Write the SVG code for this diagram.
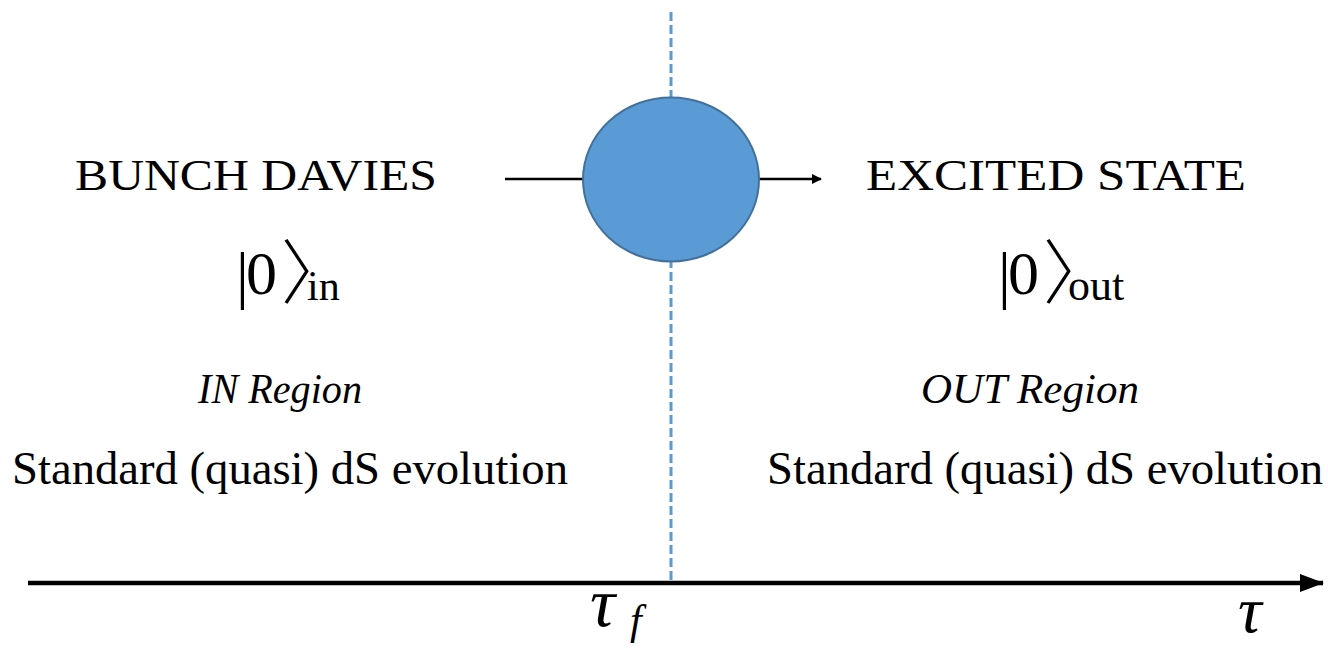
<svg xmlns="http://www.w3.org/2000/svg" width="1328" height="648" viewBox="0 0 1328 648">
<style>
.arrow{stroke:#000;fill:none}
.br{font-family:"Noto Sans CJK SC",sans-serif;font-weight:200}
</style>
<defs>
<marker id="ah" markerWidth="10" markerHeight="10" refX="9" refY="5" orient="auto" markerUnits="userSpaceOnUse"><path d="M0,0 L10,5 L0,10 Z" fill="#000"/></marker>
<marker id="ah2" markerWidth="24" markerHeight="18" refX="23" refY="9" orient="auto" markerUnits="userSpaceOnUse"><path d="M0,0 L24,9 L0,18 Z" fill="#000"/></marker>
</defs>
<rect width="1328" height="648" fill="#fff"/>
<g id="connectors">
<line x1="671" y1="12" x2="671" y2="583" stroke="#5B9BD5" stroke-width="3" stroke-dasharray="9,4"/>
<line class="arrow" x1="28" y1="583" x2="1323" y2="583" stroke-width="4.5" marker-end="url(#ah2)"/>
<line class="arrow" x1="505" y1="179" x2="584" y2="179" stroke-width="2.5"/>
<line class="arrow" x1="759" y1="179" x2="821" y2="179" stroke-width="2.5" marker-end="url(#ah)"/>
</g>
<g id="node-blob">
<ellipse cx="671" cy="179.5" rx="88" ry="82" fill="#5B9BD5" stroke="#41719C" stroke-width="2"/>
</g>
<g id="node-in" font-family="Liberation Serif, serif" fill="#000">
<text x="256" y="190" font-size="45" text-anchor="middle" textLength="362" lengthAdjust="spacingAndGlyphs">BUNCH DAVIES</text>
<text y="296" font-size="62"><tspan x="236" font-size="64">|</tspan><tspan x="246" y="294">0</tspan><tspan class="br" x="281" y="298" font-size="70">〉</tspan><tspan x="307" y="300" font-size="42">in</tspan></text>
<text x="280" y="403" font-size="42" font-style="italic" text-anchor="middle" textLength="164" lengthAdjust="spacingAndGlyphs">IN Region</text>
<text x="290" y="484" font-size="46" text-anchor="middle" textLength="556" lengthAdjust="spacingAndGlyphs">Standard (quasi) dS evolution</text>
</g>
<g id="node-out" font-family="Liberation Serif, serif" fill="#000">
<text x="1056" y="190" font-size="45" text-anchor="middle" textLength="380" lengthAdjust="spacingAndGlyphs">EXCITED STATE</text>
<text y="296" font-size="62"><tspan x="998" font-size="64">|</tspan><tspan x="1008" y="294">0</tspan><tspan class="br" x="1043" y="298" font-size="70">〉</tspan><tspan x="1068" y="300" font-size="44">out</tspan></text>
<text x="1030" y="403" font-size="42" font-style="italic" text-anchor="middle" textLength="218" lengthAdjust="spacingAndGlyphs">OUT Region</text>
<text x="1045" y="484" font-size="46" text-anchor="middle" textLength="556" lengthAdjust="spacingAndGlyphs">Standard (quasi) dS evolution</text>
</g>
<g id="axis-labels" font-family="Liberation Serif, serif" font-style="italic" fill="#000">
<text y="626" font-size="70"><tspan x="590">τ</tspan><tspan x="630" y="634" font-size="42">f</tspan></text>
<text x="1238" y="632" font-size="66">τ</text>
</g>
</svg>
